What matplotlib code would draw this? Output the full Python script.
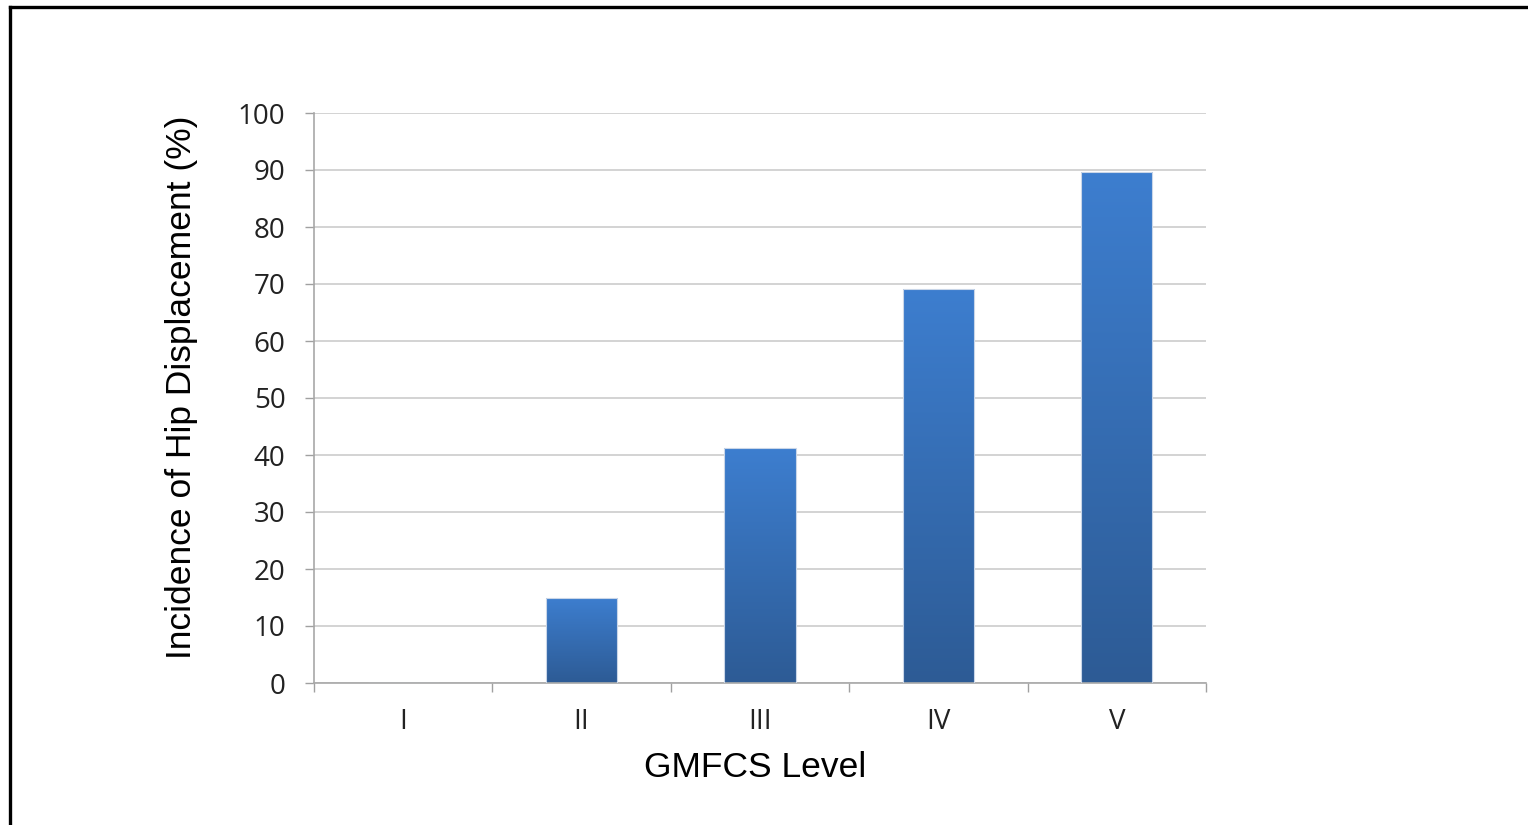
import numpy as np
import matplotlib
matplotlib.use("Agg")
import matplotlib.pyplot as plt
from matplotlib.lines import Line2D
from matplotlib.colors import LinearSegmentedColormap

categories = ["I", "II", "III", "IV", "V"]
values = [0, 15, 41.2, 69.1, 89.6]
yticks = [0, 10, 20, 30, 40, 50, 60, 70, 80, 90, 100]

W, H = 1528, 825
fig = plt.figure(figsize=(W / 100, H / 100), dpi=100)
ax = fig.add_axes([314 / W, 1 - 683 / H, (1206 - 314) / W, (683 - 113) / H])

x = np.arange(len(categories))
bars = ax.bar(x, values, width=0.4, color="none", edgecolor="#c9d6e8", linewidth=0.8, zorder=3)

cmap = LinearSegmentedColormap.from_list("g", ["#2d5b95", "#3d7ecf"])
grad = np.linspace(0, 1, 256).reshape(-1, 1)
for b in bars:
    h = b.get_height()
    if h <= 0:
        continue
    x0 = b.get_x()
    w = b.get_width()
    im = ax.imshow(grad, extent=[x0, x0 + w, 0, h], origin="lower", cmap=cmap,
                   aspect="auto", zorder=2.5, interpolation="bilinear")
    im.set_clip_path(b)

ax.set_xlim(-0.5, len(categories) - 0.5)
ax.set_ylim(0, 100)
ax.set_yticks(yticks)
ax.set_yticklabels([str(t) for t in yticks], fontsize=20, family="Open Sans", color="#222222")
ax.set_xticks(x)
ax.set_xticklabels(categories, fontsize=20, family="Open Sans", color="#222222")
ax.set_xticks(np.arange(-0.5, len(categories)), minor=True)
ax.tick_params(axis="x", which="major", length=0, pad=18)
ax.tick_params(axis="x", which="minor", length=6.5, color="#a0a0a0", width=1)
ax.tick_params(axis="y", which="major", length=6.5, color="#a0a0a0", width=1, pad=14)

ax.grid(axis="y", color="#cccccc", linewidth=1.2, zorder=0)
ax.set_axisbelow(True)
for s in ["top", "right"]:
    ax.spines[s].set_visible(False)
for s in ["left", "bottom"]:
    ax.spines[s].set_color("#a8a8a8")
    ax.spines[s].set_linewidth(1.2)

ax.set_xlabel("GMFCS Level", fontsize=25.5, family="Liberation Sans", labelpad=11)
ax.set_ylabel("Incidence of Hip Displacement (%)", fontsize=25.5, family="Liberation Sans", labelpad=29)
ax.yaxis.label.set_y(0.518)
ax.xaxis.label.set_x(0.495)

# page frame lines
fig.add_artist(Line2D([10 / W, 10 / W], [0, 1 - 7 / H], transform=fig.transFigure, color="black", linewidth=2.4))
fig.add_artist(Line2D([10 / W, 1], [1 - 7 / H, 1 - 7 / H], transform=fig.transFigure, color="black", linewidth=2.4))

fig.savefig("out.png", dpi=100, facecolor="white")
